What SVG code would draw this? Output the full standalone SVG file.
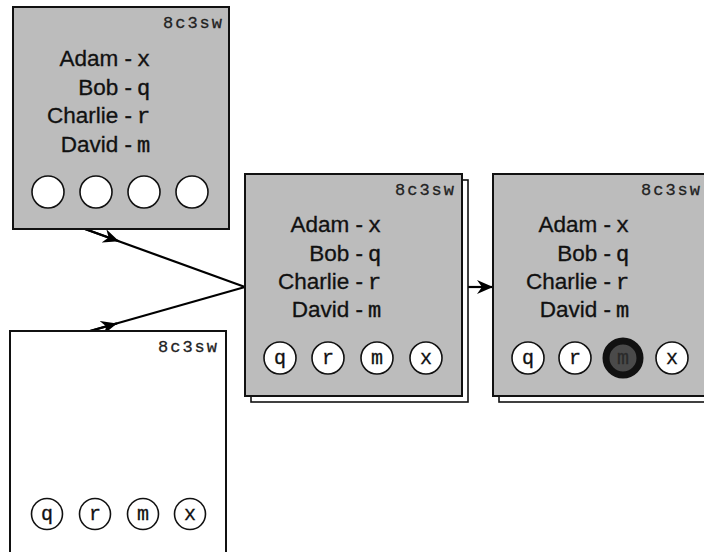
<svg xmlns="http://www.w3.org/2000/svg" width="704" height="552" viewBox="0 0 704 552">
<defs>
<style>
.box{fill:#bcbcbc;stroke:#111;stroke-width:2}
.wbox{fill:#fff;stroke:#111;stroke-width:2}
.back{fill:#fff;stroke:#111;stroke-width:1.6}
.id{font-family:"Liberation Mono",monospace;font-size:17px;letter-spacing:2px;fill:#222;stroke:#222;stroke-width:0.3}
.nm{font-family:"Liberation Sans",Arial,sans-serif;font-size:22.5px;fill:#111;text-anchor:end;stroke:#111;stroke-width:0.3}
.mn{font-family:"Liberation Mono",monospace;font-size:22px;fill:#111;stroke:#111;stroke-width:0.4}
.tok{fill:#fff;stroke:#111;stroke-width:1.6}
.tl{font-family:"Liberation Mono",monospace;font-size:20px;fill:#111;text-anchor:middle;stroke:#111;stroke-width:0.3}
.ln{fill:none;stroke:#000;stroke-width:2.2}
</style>
<marker id="ah" markerWidth="18" markerHeight="14" refX="16" refY="7" orient="auto" markerUnits="userSpaceOnUse">
<path d="M0,0 L16,7 L0,14 L5,7 Z" fill="#000"/>
</marker>
</defs>

<g id="connectors">
<path class="ln" d="M85,229 L245,287"/>
<path class="ln" d="M85,229 L119,241.3" marker-end="url(#ah)"/>
<path class="ln" d="M83,333 L245,287"/>
<path class="ln" d="M83,333 L117,323.4" marker-end="url(#ah)"/>
<path class="ln" d="M468,287 L493,287" marker-end="url(#ah)"/>
</g>

<g id="node-top" transform="translate(13,7)">
<rect class="box" x="0" y="0" width="216" height="222"/>
<text class="id" x="150" y="21">8c3sw</text>
<text class="nm" x="119" y="59">Adam -</text><text class="mn" x="124" y="59">x</text>
<text class="nm" x="119" y="88">Bob -</text><text class="mn" x="124" y="88">q</text>
<text class="nm" x="119" y="116">Charlie -</text><text class="mn" x="124" y="116">r</text>
<text class="nm" x="119" y="145">David -</text><text class="mn" x="124" y="145">m</text>
<circle class="tok" cx="35" cy="185" r="16"/>
<circle class="tok" cx="83" cy="185" r="16"/>
<circle class="tok" cx="131" cy="185" r="16"/>
<circle class="tok" cx="179" cy="185" r="16"/>
</g>

<g id="node-bottom" transform="translate(10,331)">
<rect class="wbox" x="0" y="0" width="216" height="240"/>
<text class="id" x="148" y="21">8c3sw</text>
<circle class="tok" cx="37" cy="183" r="15.5"/><text class="tl" x="37" y="189">q</text>
<circle class="tok" cx="85" cy="183" r="15.5"/><text class="tl" x="85" y="189">r</text>
<circle class="tok" cx="133" cy="183" r="15.5"/><text class="tl" x="133" y="189">m</text>
<circle class="tok" cx="180" cy="183" r="15.5"/><text class="tl" x="180" y="189">x</text>
</g>

<g id="node-middle" transform="translate(245,174)">
<rect class="back" x="6" y="6" width="217" height="222"/>
<rect class="box" x="0" y="0" width="217" height="222"/>
<text class="id" x="150" y="21">8c3sw</text>
<text class="nm" x="118" y="58">Adam -</text><text class="mn" x="123" y="58">x</text>
<text class="nm" x="118" y="87">Bob -</text><text class="mn" x="123" y="87">q</text>
<text class="nm" x="118" y="115">Charlie -</text><text class="mn" x="123" y="115">r</text>
<text class="nm" x="118" y="143">David -</text><text class="mn" x="123" y="143">m</text>
<circle class="tok" cx="35" cy="184" r="16"/><text class="tl" x="35" y="190">q</text>
<circle class="tok" cx="83" cy="184" r="16"/><text class="tl" x="83" y="190">r</text>
<circle class="tok" cx="132" cy="184" r="16"/><text class="tl" x="132" y="190">m</text>
<circle class="tok" cx="181" cy="184" r="16"/><text class="tl" x="181" y="190">x</text>
</g>

<g id="node-right" transform="translate(493,174)">
<rect class="back" x="6" y="6" width="217" height="222"/>
<rect class="box" x="0" y="0" width="217" height="222"/>
<text class="id" x="148" y="21">8c3sw</text>
<text class="nm" x="118" y="58">Adam -</text><text class="mn" x="123" y="58">x</text>
<text class="nm" x="118" y="87">Bob -</text><text class="mn" x="123" y="87">q</text>
<text class="nm" x="118" y="115">Charlie -</text><text class="mn" x="123" y="115">r</text>
<text class="nm" x="118" y="143">David -</text><text class="mn" x="123" y="143">m</text>
<circle class="tok" cx="35" cy="184" r="16"/><text class="tl" x="35" y="190">q</text>
<circle class="tok" cx="82" cy="184" r="16"/><text class="tl" x="82" y="190">r</text>
<circle cx="130" cy="184" r="17" fill="#4a4a4a" stroke="#111" stroke-width="7"/><text class="tl" x="130" y="190" style="fill:#2a2a2a;stroke:#2a2a2a">m</text>
<circle class="tok" cx="179" cy="184" r="16"/><text class="tl" x="179" y="190">x</text>
</g>
</svg>
